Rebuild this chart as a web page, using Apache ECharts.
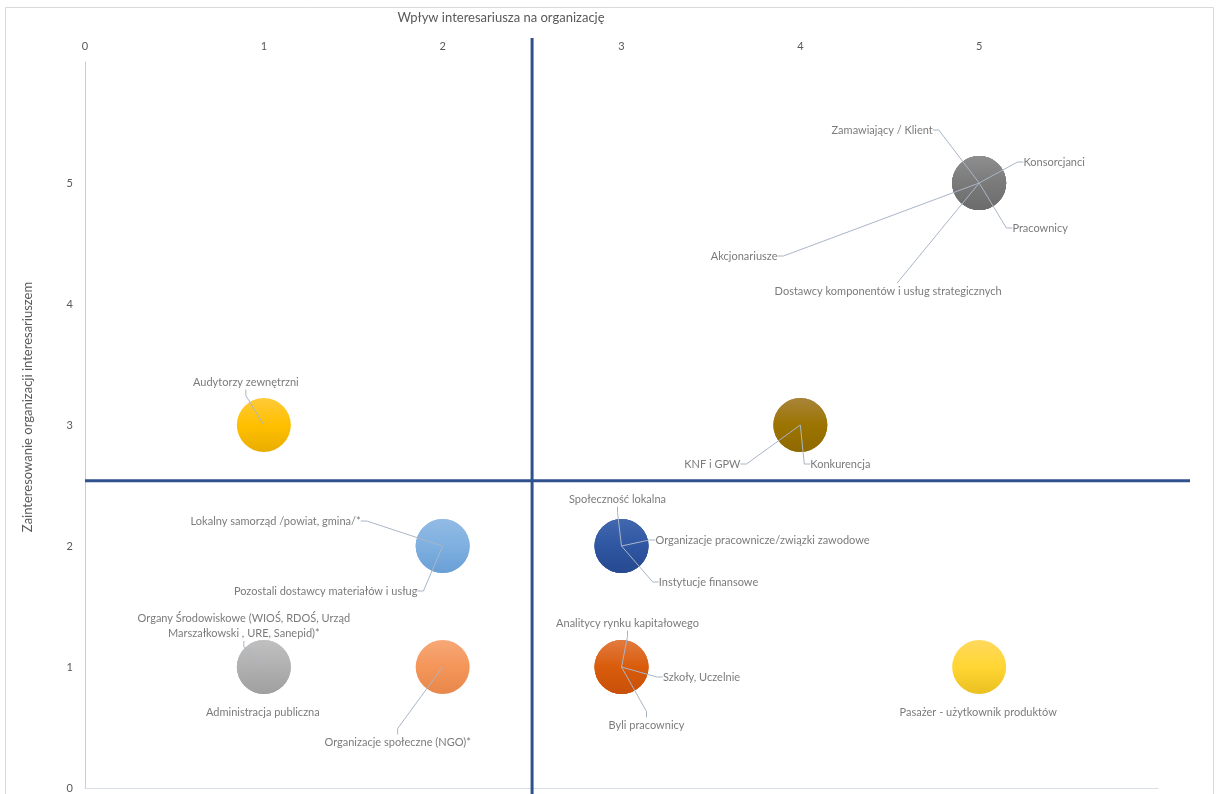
<!DOCTYPE html>
<html>
<head>
<meta charset="utf-8">
<style>html,body{margin:0;padding:0;background:#fff;}#c{width:1216px;height:794px;}</style>
<script src="https://cdn.jsdelivr.net/npm/echarts@6/dist/echarts.min.js"></script>
</head>
<body>
<div id="c"></div>
<script>
// ---- data ----
const stakeholders = [
  'Zamawiający / Klient', 'Konsorcjanci', 'Pracownicy', 'Akcjonariusze',
  'Dostawcy komponentów i usług strategicznych', 'Audytorzy zewnętrzni',
  'KNF i GPW', 'Konkurencja', 'Lokalny samorząd /powiat, gmina/*',
  'Pozostali dostawcy materiałów i usług', 'Społeczność lokalna',
  'Organizacje pracownicze/związki zawodowe', 'Instytucje finansowe',
  'Organy Środowiskowe (WIOŚ, RDOŚ, Urząd\nMarszałkowski , URE, Sanepid)*',
  'Administracja publiczna', 'Organizacje społeczne (NGO)*',
  'Analitycy rynku kapitałowego', 'Szkoły, Uczelnie', 'Byli pracownicy',
  'Pasażer - użytkownik produktów'
];
const influence = [5, 5, 5, 5, 5, 1, 4, 4, 2, 2, 3, 3, 3, 1, 1, 2, 3, 3, 3, 5];
const interest  = [5, 5, 5, 5, 5, 3, 3, 3, 2, 2, 2, 2, 2, 1, 1, 1, 1, 1, 1, 1];
const xTicks = [0, 1, 2, 3, 4, 5];
const yTicks = [0, 1, 2, 3, 4, 5];
const quadrantX = 2.5;
const quadrantY = 2.54;
const xAxisTitle = 'Wpływ interesariusza na organizację';
const yAxisTitle = 'Zainteresowanie organizacji interesariuszem';

// ---- styles / layout ----
const bubbleColors = {
  '5,5': ['#8e8e8e', '#7a7a7a', '#6c6c6c'],
  '1,3': ['#ffca3a', '#ffc000', '#e9ad00'],
  '4,3': ['#a8843a', '#9c7400', '#8f6900'],
  '2,2': ['#92bbe5', '#7eb0e0', '#6a9fd6'],
  '3,2': ['#4268ae', '#2f56a2', '#274a90'],
  '1,1': ['#c0c0c0', '#b0b0b0', '#9f9f9f'],
  '2,1': ['#f7a877', '#f4955a', '#e8874a'],
  '3,1': ['#e27b40', '#d95c0b', '#c8500a'],
  '5,1': ['#ffd95e', '#ffd633', '#e9c020']
};
const labelOffsets = [
  [-97, -53], [75, -21], [61, 45], [-235, 73], [-91, 108], [-18, -43],
  [-88, 39], [40, 39], [-167, -25], [-117, 45], [-4, -47], [141, -6],
  [87, 36], [-20, -41], [-1, 45], [-45, 75], [6, -44], [80, 10],
  [25, 58], [-1, 45]
];
const noLeader = [14, 19];
// leaders drawn manually (index -> end offset from bubble centre)
const manualLeaders = {4: [-82, 100]};
const FONT = 'Lato, "Open Sans", sans-serif';
const TXT = '#595959';
const LEADER = '#aab6c6';

function grad(c) {
  return new echarts.graphic.LinearGradient(0, 0, 0, 1, [
    {offset: 0, color: c[0]}, {offset: 0.5, color: c[1]}, {offset: 1, color: c[2]}
  ]);
}

const bubbleData = stakeholders.map((n, i) => ({
  value: [influence[i], interest[i]],
  itemStyle: {color: grad(bubbleColors[influence[i] + ',' + interest[i]]), opacity: 1}
}));
const labelData = stakeholders.map((n, i) => ({
  name: n,
  value: [influence[i], interest[i]],
  labelLine: {show: noLeader.indexOf(i) < 0 && !(i in manualLeaders)}
}));

const chart = echarts.init(document.getElementById('c'));
const option = {
  animation: false,
  backgroundColor: '#fff',
  grid: {left: 85, top: 62, width: 1073, height: 726},
  xAxis: {
    type: 'value', position: 'top', min: 0, max: 6, interval: 1,
    axisLine: {show: true, lineStyle: {color: '#d9dde6', width: 1}},
    axisTick: {show: false}, splitLine: {show: false},
    axisLabel: {color: TXT, fontFamily: FONT, fontSize: 11, margin: 10,
      formatter: v => (xTicks.indexOf(v) >= 0 ? String(v) : '')}
  },
  yAxis: {
    type: 'value', min: 0, max: 6, interval: 1,
    axisLine: {show: true, lineStyle: {color: '#c5cedb', width: 1}},
    axisTick: {show: false}, splitLine: {show: false},
    axisLabel: {color: TXT, fontFamily: FONT, fontSize: 11, margin: 12,
      formatter: v => (yTicks.indexOf(v) >= 0 ? String(v) : '')}
  },
  series: [
    {
      type: 'scatter', symbolSize: 54, data: bubbleData, silent: true, z: 2,
      itemStyle: {opacity: 1}
    },
    {
      type: 'scatter', symbolSize: 0.1, data: labelData, silent: true, z: 5,
      itemStyle: {color: 'rgba(0,0,0,0)'},
      label: {show: true, formatter: p => p.name, color: TXT, fontFamily: FONT,
        fontSize: 11, lineHeight: 15, align: 'center'},
      labelLine: {show: true, length2: 6, lineStyle: {color: LEADER, width: 1}},
      labelLayout: function (params) {
        const o = labelOffsets[params.dataIndex];
        const cx = params.rect.x + params.rect.width / 2;
        const cy = params.rect.y + params.rect.height / 2;
        return {x: cx + o[0], y: cy + o[1], align: 'center', verticalAlign: 'middle'};
      }
    }
  ]
};
chart.setOption(option);

const qx = chart.convertToPixel({gridIndex: 0}, [quadrantX, 0])[0];
const qy = chart.convertToPixel({gridIndex: 0}, [0, quadrantY])[1];
const graphics = [
  {type: 'rect', shape: {x: 5.5, y: 7.5, width: 1208, height: 800}, silent: true,
    style: {fill: 'none', stroke: '#d9d9d9', lineWidth: 1}, z: 0},
  {type: 'line', shape: {x1: qx, y1: 38, x2: qx, y2: 794}, silent: true,
    style: {stroke: '#2f528f', lineWidth: 3}, z: 10},
  {type: 'line', shape: {x1: 85, y1: qy, x2: 1190, y2: qy}, silent: true,
    style: {stroke: '#2f528f', lineWidth: 3}, z: 10},
  {type: 'text', x: 501, y: 18, silent: true, z: 10,
    style: {text: xAxisTitle, fill: TXT, font: '13px ' + FONT, align: 'center', verticalAlign: 'middle'}},
  {type: 'text', x: 28, y: 407, rotation: Math.PI / 2, silent: true, z: 10,
    style: {text: yAxisTitle, fill: TXT, font: '13px ' + FONT, align: 'center', verticalAlign: 'middle'}}
];
Object.keys(manualLeaders).forEach(k => {
  const i = +k;
  const p = chart.convertToPixel({gridIndex: 0}, [influence[i], interest[i]]);
  const e = manualLeaders[k];
  graphics.push({type: 'line', silent: true, z: 20,
    shape: {x1: p[0], y1: p[1], x2: p[0] + e[0], y2: p[1] + e[1]},
    style: {stroke: LEADER, lineWidth: 1}});
});
chart.setOption({graphic: graphics});
</script>
</body>
</html>
